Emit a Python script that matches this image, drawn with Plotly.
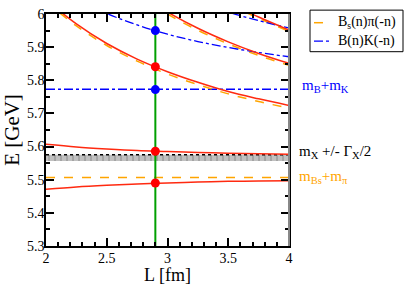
import plotly.graph_objects as go

# ---- data ----
L_full = [2.0, 2.25, 2.5, 2.75, 3.0, 3.25, 3.5, 3.75, 4.0]

# B_s(n) pi(-n) non-interacting levels
bspi_n1 = [6.038, 5.964, 5.905, 5.858, 5.819, 5.787, 5.759, 5.736, 5.716]
L_bspi_n2 = [2.75, 3.0, 3.25, 3.5, 3.75, 4.0]
bspi_n2 = [6.058, 6.000, 5.951, 5.910, 5.875, 5.845]
L_bspi_n3 = [3.25, 3.5, 3.75, 4.0]
bspi_n3 = [6.083, 6.031, 5.987, 5.948]

# B(n) K(-n) non-interacting levels
bk_n1 = [6.108, 6.048, 6.002, 5.967, 5.939, 5.917, 5.899, 5.884, 5.871]
L_bk_n2 = [3.25, 3.5, 3.75, 4.0]
bk_n2 = [6.038, 6.006, 5.980, 5.958]

# interacting levels (red)
red1 = [5.471, 5.478, 5.483, 5.487, 5.490, 5.493, 5.495, 5.496, 5.497]
red2 = [5.607, 5.599, 5.593, 5.588, 5.585, 5.582, 5.580, 5.578, 5.577]
red3 = [6.044, 5.970, 5.911, 5.864, 5.826, 5.794, 5.766, 5.744, 5.724]
red4 = [6.064, 6.006, 5.957, 5.916, 5.881, 5.851]
red5 = [6.087, 6.035, 5.991, 5.952]

# thresholds
m_B_plus_m_K = 5.773
m_Bs_plus_m_pi = 5.5065
m_X = 5.566
half_width_X = 0.0095

# points at L = 2.9 fm
L_point = 2.9
red_points = [5.490, 5.586, 5.841]
blue_points = [5.772, 5.950]

x_ticks = [2, 2.5, 3, 3.5, 4]
x_tick_text = ["2", "2.5", "3", "3.5", "4"]
y_ticks = [5.3, 5.4, 5.5, 5.6, 5.7, 5.8, 5.9, 6.0]
y_tick_text = ["5.3", "5.4", "5.5", "5.6", "5.7", "5.8", "5.9", "6"]

legend_labels = ["B<sub>s</sub>(n)\u03c0(-n)", "B(n)K(-n)"]

RED = "#ff2a10"
ORANGE = "#ffa500"
BLUE = "#0000ff"
GREEN = "#00a000"
SERIF = "Liberation Serif, Times New Roman, serif"

# plot-area geometry (pixels) used for paper-coordinate placement of decorations
ML, MR, MT, MB = 46, 118, 7, 38
W, H = 407, 285
PW, PH = W - ML - MR, H - MT - MB


def px_x(px):
    return (px - ML) / PW


def px_y(py):
    return (H - MB - py) / PH


fig = go.Figure()

# grey band m_X +/- Gamma/2
fig.add_trace(go.Scatter(x=[2, 4], y=[m_X - half_width_X] * 2, mode="lines",
                         line=dict(color="rgba(0,0,0,0)", width=0),
                         showlegend=False, hoverinfo="skip"))
fig.add_trace(go.Scatter(x=[2, 4], y=[m_X + half_width_X] * 2, mode="lines",
                         line=dict(color="black", width=1.5, dash="dot"),
                         fill="tonexty", fillcolor="#c0c0c0",
                         fillpattern=dict(shape="|", bgcolor="#c0c0c0",
                                          fgcolor="#444444", size=6, solidity=0.15),
                         showlegend=False, hoverinfo="skip"))

# thresholds
fig.add_trace(go.Scatter(x=[2, 4], y=[m_Bs_plus_m_pi] * 2, mode="lines",
                         line=dict(color=ORANGE, width=1.5, dash="dash"),
                         showlegend=False))
fig.add_trace(go.Scatter(x=[2, 4], y=[m_B_plus_m_K] * 2, mode="lines",
                         line=dict(color=BLUE, width=1.3, dash="dashdot"),
                         showlegend=False))

# non-interacting levels
for xs, ys in [(L_full, bspi_n1), (L_bspi_n2, bspi_n2), (L_bspi_n3, bspi_n3)]:
    fig.add_trace(go.Scatter(x=xs, y=ys, mode="lines", line_shape="spline",
                             line=dict(color=ORANGE, width=1.5, dash="dash"),
                             showlegend=False))
for xs, ys in [(L_full, bk_n1), (L_bk_n2, bk_n2)]:
    fig.add_trace(go.Scatter(x=xs, y=ys, mode="lines", line_shape="spline",
                             line=dict(color=BLUE, width=1.3, dash="dashdot"),
                             showlegend=False))

# interacting levels
for xs, ys in [(L_full, red1), (L_full, red2), (L_full, red3),
               (L_bspi_n2, red4), (L_bspi_n3, red5)]:
    fig.add_trace(go.Scatter(x=xs, y=ys, mode="lines", line_shape="spline",
                             line=dict(color=RED, width=1.5), showlegend=False))

# vertical green line
fig.add_trace(go.Scatter(x=[L_point, L_point], y=[5.3, 6.0], mode="lines",
                         line=dict(color=GREEN, width=2), showlegend=False))

# points
fig.add_trace(go.Scatter(x=[L_point] * len(red_points), y=red_points, mode="markers",
                         marker=dict(color="red", size=9), showlegend=False))
fig.add_trace(go.Scatter(x=[L_point] * len(blue_points), y=blue_points, mode="markers",
                         marker=dict(color=BLUE, size=9), showlegend=False))

axis_common = dict(showline=True, linecolor="black", linewidth=1.5, mirror="allticks",
                   ticks="inside", tickcolor="black", tickwidth=1.5, ticklen=8,
                   showgrid=False, zeroline=False,
                   tickfont=dict(family=SERIF, size=14, color="black"))

fig.update_xaxes(range=[2, 4], tickvals=x_ticks, ticktext=x_tick_text,
                 ticklabelstandoff=-2,
                 minor=dict(dtick=0.1, ticks="inside", ticklen=4, tickcolor="black", tickwidth=1.5),
                 title=dict(text="L [fm]", font=dict(family=SERIF, size=18, color="black"), standoff=0),
                 **axis_common)
fig.update_yaxes(range=[5.2999, 6.0001], tickvals=y_ticks, ticktext=y_tick_text,
                 ticklabelstandoff=-3,
                 minor=dict(dtick=0.05, ticks="inside", ticklen=4, tickcolor="black", tickwidth=1.5),
                 title=dict(text="E [GeV]", font=dict(family=SERIF, size=21, color="black"), standoff=5),
                 **axis_common)

# grey right spine
fig.add_shape(type="line", xref="paper", yref="paper", x0=1, x1=1, y0=0, y1=1,
              line=dict(color="#888888", width=2))

annot_font = dict(family=SERIF, size=15)
fig.add_annotation(x=px_x(300), y=5.782, xref="paper", yref="y", xanchor="left",
                   yanchor="middle", showarrow=False,
                   text="m<sub>B</sub>+m<sub>K</sub>", font=dict(color=BLUE, **annot_font))
fig.add_annotation(x=px_x(297), y=5.585, xref="paper", yref="y", xanchor="left",
                   yanchor="middle", showarrow=False,
                   text="m<sub>X</sub> +/- \u0393<sub>X</sub>/2", font=dict(color="black", **annot_font))
fig.add_annotation(x=px_x(297), y=5.508, xref="paper", yref="y", xanchor="left",
                   yanchor="middle", showarrow=False,
                   text="m<sub>Bs</sub>+m<sub>\u03c0</sub>", font=dict(color=ORANGE, **annot_font))

# legend box (drawn by hand to match the compact original legend)
fig.add_shape(type="rect", xref="paper", yref="paper",
              x0=px_x(310), x1=px_x(403), y0=px_y(46), y1=px_y(3),
              line=dict(color="black", width=1), fillcolor="white", layer="above")
legend_styles = [dict(color=ORANGE, width=1.5, dash="dash"),
                 dict(color=BLUE, width=1.3, dash="dashdot")]
legend_rows = [16, 35]
for label, style, row in zip(legend_labels, legend_styles, legend_rows):
    fig.add_shape(type="line", xref="paper", yref="paper",
                  x0=px_x(314), x1=px_x(331), y0=px_y(row), y1=px_y(row),
                  line=style, layer="above")
    fig.add_annotation(x=px_x(336), y=px_y(row), xref="paper", yref="paper",
                       xanchor="left", yanchor="middle", showarrow=False,
                       text=label, font=dict(family=SERIF, size=14, color="black"))

fig.update_layout(
    width=W, height=H,
    margin=dict(l=ML, r=MR, t=MT, b=MB),
    plot_bgcolor="white", paper_bgcolor="white",
    showlegend=False,
)

fig.write_html(
    "out.html",
    config={"displayModeBar": False},
    post_script="document.body.style.margin='0';document.body.style.padding='0';",
)
